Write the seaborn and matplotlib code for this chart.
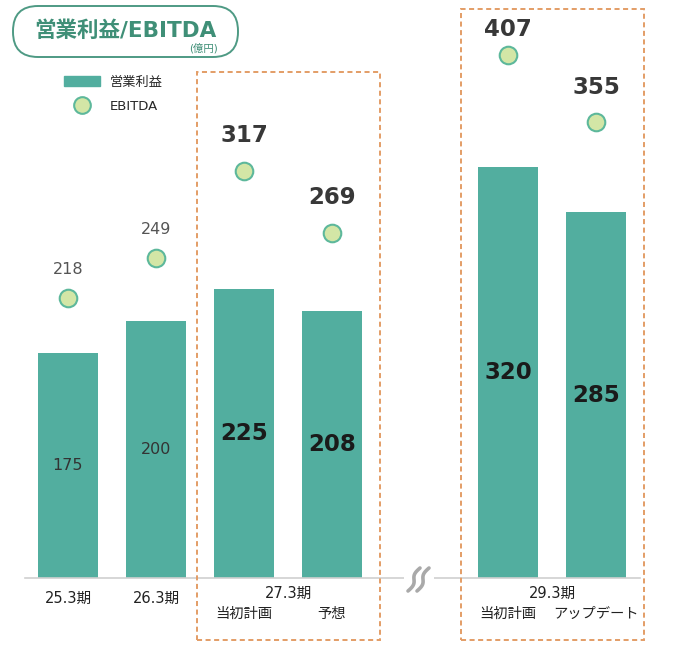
import numpy as np
import pandas as pd
import matplotlib.pyplot as plt
import matplotlib.patches as mpatches
import matplotlib.transforms as mtransforms
from matplotlib.lines import Line2D
import seaborn as sns

# data (億円)
periods = ['25.3期', '26.3期', '27.3期', '27.3期', '29.3期', '29.3期']
cases = ['', '', '当初計画', '予想', '当初計画', 'アップデート']
op_income = [175, 200, 225, 208, 320, 285]
ebitda = [218, 249, 317, 269, 407, 355]

# layout: slot 4 is the axis break
slots = [0, 1, 2, 3, 5, 6]

TEAL = '#52AE9F'
DOT = '#D3E6A6'
DOT_EDGE = '#5DB89B'
GREEN = '#3F8F77'
ORANGE = '#E39D66'

sns.set_style('white')
plt.rcParams['font.family'] = ['DejaVu Sans', 'Noto Sans CJK JP']

W, H = 699, 667
X0, XS = 68, 88.0       # pixel of slot 0, pixels per slot
Y0, YS = 578, 1.284     # pixel of value 0, pixels per unit


def px(x):
    return (x - X0) / XS


def py(y):
    return (Y0 - y) / YS


df = pd.DataFrame({'slot': slots, 'period': periods, 'case': cases,
                   'op': op_income, 'ebitda': ebitda})

fig = plt.figure(figsize=(W / 100, H / 100), dpi=100)
ax = fig.add_axes([0, 0, 1, 1])

sns.barplot(data=df, x='slot', y='op', native_scale=True, width=0.68,
            color=TEAL, saturation=1, errorbar=None, linewidth=0, ax=ax)
sns.scatterplot(data=df, x='slot', y='ebitda', s=160, color=DOT,
                edgecolor=DOT_EDGE, linewidth=1.5, ax=ax, zorder=3)

ax.set_xlim(px(0), px(W))
ax.set_ylim(py(H), py(0))
ax.set_xlabel('')
ax.set_ylabel('')
ax.set_xticks([])
ax.set_yticks([])
for s in ['top', 'left', 'right']:
    ax.spines[s].set_visible(False)
ax.spines['bottom'].set_position(('data', 0))
ax.spines['bottom'].set_bounds(px(25), px(640))
ax.spines['bottom'].set_color('#D0D0D0')
ax.spines['bottom'].set_linewidth(1.2)

# value labels
for i, r in df.iterrows():
    big = i >= 2
    fs = 16.5 if big else 11.5
    fw = 'bold' if big else 'normal'
    ax.text(r.slot, r.op / 2, f'{r.op}', ha='center', va='center',
            fontsize=fs, fontweight=fw, color='#1a1a1a' if big else '#333333')
    # label sits above the dot, but not higher than the top margin
    lab_px = max(Y0 - r.ebitda * YS - (35 if big else 29), 29)
    ax.text(r.slot, py(lab_px), f'{r.ebitda}', ha='center', va='center',
            fontsize=fs, fontweight=fw, color='#383838' if big else '#555555')

# category labels
for p, g in df.groupby('period', sort=False):
    if len(g) == 1:
        ax.text(g.slot.iloc[0], py(598), p, ha='center', va='center',
                fontsize=10.5, color='#222222')
    else:
        ax.text(g.slot.mean(), py(593), p, ha='center', va='center',
                fontsize=10.5, color='#222222')
        for _, r in g.iterrows():
            ax.text(r.slot, py(614), r.case, ha='center', va='center',
                    fontsize=10.3, color='#222222')

# dashed frames around plan / forecast
for x1, x2, y1 in [(197, 380, 72), (461, 644, 9)]:
    ax.add_patch(mpatches.Rectangle((px(x1), py(640)), px(x2) - px(x1), py(y1) - py(640),
                                    fill=False, ec=ORANGE, lw=1.4,
                                    ls=(0, (2.6, 1.8)), zorder=4))

# axis break mark
ax.add_patch(mpatches.Rectangle((px(404), py(582)), px(434) - px(404), py(574) - py(582),
                                fc='white', ec='none', zorder=5))
t = np.linspace(0, 1, 40)
for k in range(2):
    xs = 408 + 9 * k + 12 * t + 2.2 * np.sin(2 * np.pi * t)
    ys = 591 - 23 * t
    ax.plot(px(xs), py(ys), color='#A9A9A9', lw=2.6, solid_capstyle='round', zorder=6)

# legend
handles = [mpatches.Patch(color=TEAL, label='営業利益'),
           Line2D([], [], marker='o', ls='none', ms=12, mfc=DOT, mec=DOT_EDGE,
                  mew=1.5, label='EBITDA')]
fig.legend(handles=handles, loc='upper left', bbox_to_anchor=(64 / W, 1 - 76 / H),
           frameon=False, fontsize=9.5, handlelength=2.7, handleheight=0.8,
           handletextpad=0.8, labelspacing=0.8, borderpad=0, borderaxespad=0)

# title pill
fig.add_artist(mpatches.FancyBboxPatch((13, H - 57), 225, 51,
                                       boxstyle='round,pad=0,rounding_size=25',
                                       transform=mtransforms.IdentityTransform(),
                                       fill=False, ec='#4E9A84', lw=1.4))
fig.text(125 / W, 1 - 31 / H, '営業利益/EBITDA', ha='center', va='center',
         fontsize=15.5, fontweight='bold', color=GREEN)
fig.text(203 / W, 1 - 48 / H, '(億円)', ha='center', va='center',
         fontsize=7.5, color=GREEN)

fig.savefig('out.png', dpi=100)
